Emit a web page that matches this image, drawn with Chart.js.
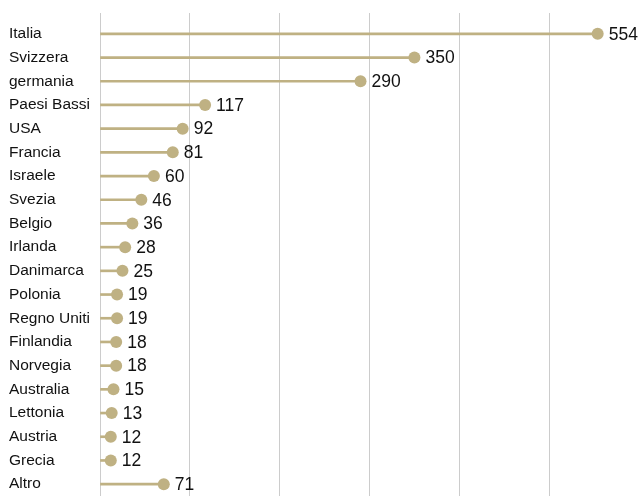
<!DOCTYPE html>
<html>
<head>
<meta charset="utf-8">
<script src="https://cdn.jsdelivr.net/npm/chart.js@4/dist/chart.umd.min.js"></script>
<style>
  html, body { margin: 0; padding: 0; background: #fff; }
  #container { width: 639px; height: 496px; position: relative; }
</style>
</head>
<body>
<div id="container"><canvas id="myChart" width="639" height="496"></canvas></div>
<script>
// data
const countries = ['Italia', 'Svizzera', 'germania', 'Paesi Bassi', 'USA', 'Francia', 'Israele',
  'Svezia', 'Belgio', 'Irlanda', 'Danimarca', 'Polonia', 'Regno Uniti', 'Finlandia',
  'Norvegia', 'Australia', 'Lettonia', 'Austria', 'Grecia', 'Altro'];
const values = [554, 350, 290, 117, 92, 81, 60, 46, 36, 28, 25, 19, 19, 18, 18, 15, 13, 12, 12, 71];
const gridTicks = [0, 100, 200, 300, 400, 500, 600];

const tan = 'rgb(191,177,131)';
const fontFamily = '"Liberation Sans", Arial, Helvetica, sans-serif';

// writes the value to the right of every dot
const valueLabels = {
    id: 'valueLabels',
    afterDatasetsDraw(chart) {
        const ctx = chart.ctx;
        const meta = chart.getDatasetMeta(1);
        ctx.save();
        ctx.font = '17.5px ' + fontFamily;
        ctx.fillStyle = '#111';
        ctx.textAlign = 'left';
        ctx.textBaseline = 'middle';
        meta.data.forEach(function (pt, i) {
            ctx.fillText(String(values[i]), pt.x + 11, pt.y + 1);
        });
        ctx.restore();
    }
};

const ctx = document.getElementById('myChart').getContext('2d');
const chart = new Chart(ctx, {
    type: 'bar',
    data: {
        labels: countries,
        datasets: [{
            // the stems
            type: 'bar',
            data: values,
            backgroundColor: tan,
            barThickness: 2,
            order: 1
        }, {
            // the dots
            type: 'line',
            data: values,
            showLine: false,
            pointRadius: 6,
            pointHoverRadius: 6,
            pointBackgroundColor: tan,
            pointBorderWidth: 0,
            order: 0
        }]
    },
    plugins: [valueLabels],
    options: {
        indexAxis: 'y',
        responsive: false,
        animation: false,
        devicePixelRatio: 1,
        layout: { autoPadding: false, padding: { top: 13, left: 9, right: 0, bottom: 0 } },
        plugins: { legend: { display: false }, tooltip: { enabled: false } },
        scales: {
            x: {
                type: 'linear',
                position: 'top',
                min: 0,
                max: 600,
                afterBuildTicks: function (axis) {
                    axis.ticks = gridTicks.map(function (v) { return { value: v }; });
                },
                ticks: { display: false },
                border: { display: false },
                grid: {
                    color: function (c) { return c.tick && c.tick.value === 600 ? 'rgba(0,0,0,0)' : '#cccccc'; },
                    lineWidth: 1,
                    tickLength: 9
                }
            },
            y: {
                type: 'category',
                grid: { display: false },
                border: { display: false },
                afterFit: function (axis) {
                    axis.width = 91;
                    axis.paddingTop = 0;
                    axis.paddingBottom = 0;
                },
                ticks: {
                    crossAlign: 'far',
                    color: '#111',
                    font: { size: 15.5, family: fontFamily }
                }
            }
        }
    }
});
</script>
</body>
</html>
